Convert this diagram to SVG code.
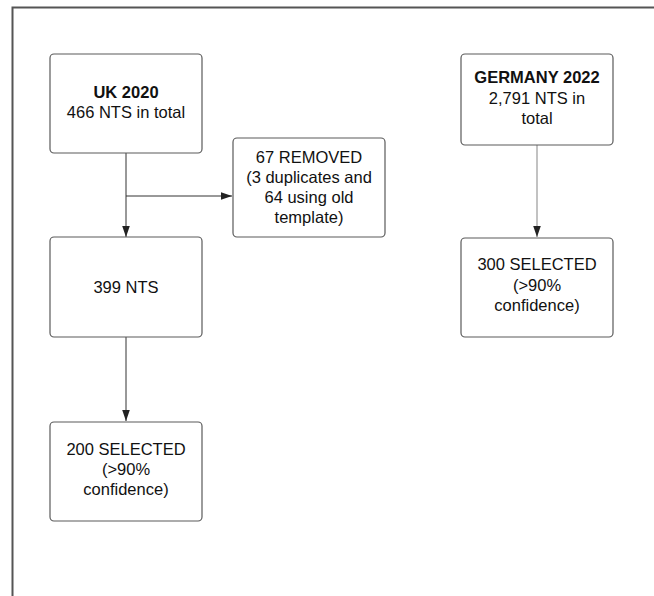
<svg xmlns="http://www.w3.org/2000/svg" width="654" height="596" viewBox="0 0 654 596">
<style>
.box{fill:#fff;stroke:#5a5a5a;stroke-width:1.2}
.t{font-family:"Liberation Sans",Arial,sans-serif;font-size:16.5px;fill:#111;text-anchor:middle}
.b{font-weight:bold}
.c{fill:none;stroke:#333;stroke-width:1}
.g{fill:none;stroke:#999;stroke-width:1.2}
</style>
<defs>
<marker id="ah" markerWidth="12" markerHeight="10" refX="11" refY="5" orient="auto" markerUnits="userSpaceOnUse">
<path d="M0,1.2 L11,5 L0,8.8 Z" fill="#222"/>
</marker>
</defs>
<rect width="654" height="596" fill="#fff"/>
<g id="frame">
<path d="M12.5,596 V7.5 H654" fill="none" stroke="#555" stroke-width="2"/>
</g>
<g id="connectors">
<path class="c" d="M126,153 V237" marker-end="url(#ah)"/>
<path class="c" d="M126,196 H232" marker-end="url(#ah)"/>
<path class="c" d="M126,337 V421" marker-end="url(#ah)"/>
<path class="g" d="M537,145 V237" marker-end="url(#ah)"/>
</g>
<g id="uk2020">
<rect class="box" x="50" y="54" width="152" height="99" rx="4"/>
<text class="t b" x="126" y="98">UK 2020</text>
<text class="t" x="126" y="118">466 NTS in total</text>
</g>
<g id="removed">
<rect class="box" x="233" y="138" width="152" height="99" rx="4"/>
<text class="t" x="309" y="163">67 REMOVED</text>
<text class="t" x="309" y="183">(3 duplicates and</text>
<text class="t" x="309" y="203">64 using old</text>
<text class="t" x="309" y="223">template)</text>
</g>
<g id="nts399">
<rect class="box" x="50" y="237" width="152" height="100" rx="4"/>
<text class="t" x="126" y="293">399 NTS</text>
</g>
<g id="uk_selected">
<rect class="box" x="50" y="422" width="152" height="99" rx="4"/>
<text class="t" x="126" y="455">200 SELECTED</text>
<text class="t" x="126" y="475">(&gt;90%</text>
<text class="t" x="126" y="495">confidence)</text>
</g>
<g id="germany2022">
<rect class="box" x="461" y="54" width="152" height="91" rx="4"/>
<text class="t b" x="537" y="83">GERMANY 2022</text>
<text class="t" x="537" y="104">2,791 NTS in</text>
<text class="t" x="537" y="124">total</text>
</g>
<g id="de_selected">
<rect class="box" x="461" y="238" width="152" height="99" rx="4"/>
<text class="t" x="537" y="270">300 SELECTED</text>
<text class="t" x="537" y="291">(&gt;90%</text>
<text class="t" x="537" y="311">confidence)</text>
</g>
</svg>
